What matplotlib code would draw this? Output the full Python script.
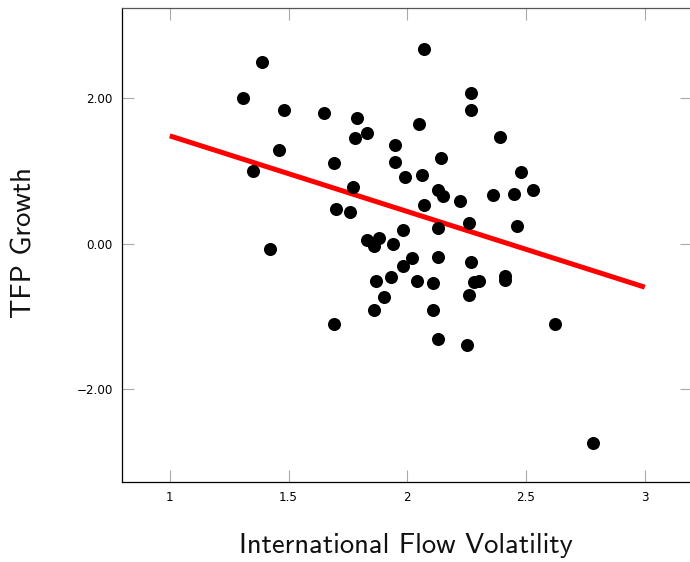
import matplotlib
matplotlib.use("Agg")
import matplotlib.pyplot as plt
from matplotlib.ticker import FixedLocator, FuncFormatter

# Country observations: international flow volatility vs. TFP growth
volatility = [1.39, 1.31, 1.48, 1.65, 1.79, 1.83, 1.78, 1.95, 1.46, 1.69,
              1.95, 1.35, 1.99, 1.77, 1.70, 1.76, 1.98, 1.83, 1.88, 1.86,
              1.94, 1.42, 2.07, 2.27, 2.27, 2.05, 2.39, 2.14, 2.48, 2.06,
              2.13, 2.15, 2.22, 2.36, 2.45, 2.53, 2.07, 2.26, 2.46, 2.13,
              2.02, 2.13, 2.27, 1.98, 1.87, 1.93, 2.04, 2.11, 2.28, 2.30,
              2.41, 2.41, 1.90, 2.26, 1.86, 2.11, 1.69, 2.62, 2.13, 2.25,
              2.78]
tfp_growth = [2.50, 2.00, 1.83, 1.80, 1.73, 1.52, 1.45, 1.36, 1.29, 1.11,
              1.12, 1.00, 0.91, 0.78, 0.48, 0.44, 0.19, 0.05, 0.07, -0.04,
              -0.01, -0.08, 2.68, 2.07, 1.83, 1.64, 1.47, 1.18, 0.98, 0.94,
              0.73, 0.65, 0.59, 0.66, 0.68, 0.73, 0.53, 0.28, 0.24, 0.22,
              -0.20, -0.19, -0.25, -0.31, -0.51, -0.46, -0.51, -0.54, -0.53, -0.52,
              -0.45, -0.50, -0.73, -0.71, -0.92, -0.92, -1.11, -1.11, -1.31, -1.39,
              -2.74]

# Linear fit drawn across the tick range
fit_x = [1.0, 3.0]
fit_y = [1.48, -0.60]

x_ticks = [1, 1.5, 2, 2.5, 3]
y_ticks = [-2, 0, 2]

W, H = 690, 562
fig = plt.figure(figsize=(W / 100, H / 100), dpi=100)

left_px, right_px, top_px, bottom_px = 122.3, 692.3, 8.3, 482.3
ax = fig.add_axes([left_px / W, 1 - bottom_px / H,
                   (right_px - left_px) / W, (bottom_px - top_px) / H])

ax.plot(fit_x, fit_y, color="#ff0000", linewidth=3.6, solid_capstyle="butt", zorder=2)
ax.plot(volatility, tfp_growth, linestyle="none", marker="o", markersize=9.4,
        markerfacecolor="black", markeredgecolor="black", markeredgewidth=0, zorder=3)

ax.set_xlim(0.8, 3.2)
ax.set_ylim(-3.282, 3.233)

ax.xaxis.set_major_locator(FixedLocator(x_ticks))
ax.yaxis.set_major_locator(FixedLocator(y_ticks))
ax.xaxis.set_major_formatter(FuncFormatter(lambda v, p: f"{v:g}"))
ax.yaxis.set_major_formatter(FuncFormatter(lambda v, p: f"{v:.2f}".replace("-", "\u2212")))

tick_font = ["DejaVu Sans"]
ax.tick_params(axis="both", which="major", direction="in", length=8.8, width=0.8,
               color="#aaaaaa", labelsize=8.6, labelcolor="black",
               top=True, right=True)
ax.tick_params(axis="x", pad=6.0)
ax.tick_params(axis="y", pad=6.8)
for lab in ax.get_xticklabels() + ax.get_yticklabels():
    lab.set_family(tick_font)

for side in ("left", "bottom"):
    ax.spines[side].set_color("black")
    ax.spines[side].set_linewidth(0.9)
ax.spines["top"].set_color("#555555")
ax.spines["top"].set_linewidth(0.9)
ax.spines["right"].set_visible(False)

label_font = ["cmss10", "DejaVu Sans"]
fig.text(406 / W, 1 - 553 / H, "International Flow Volatility", family=label_font,
         fontsize=20.6, ha="center", va="baseline", color="#111111")
fig.text(31.5 / W, 1 - 243 / H, "TFP Growth", family=label_font, fontsize=20.6,
         rotation=90, rotation_mode="anchor", ha="center", va="baseline", color="#111111")

fig.savefig("out.png", dpi=100)
